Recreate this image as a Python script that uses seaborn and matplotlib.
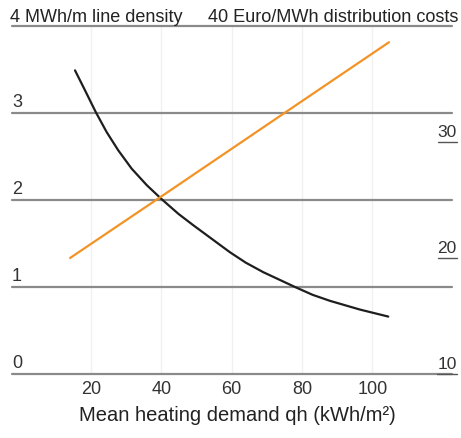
import matplotlib
matplotlib.use("Agg")
import matplotlib.pyplot as plt
from matplotlib.lines import Line2D
import seaborn as sns
import pandas as pd

# ---- data ----
heating_demand_density = [15.5, 18.35, 21.4, 24.5, 27.8, 31.6, 35.9, 40.1, 44.9,
                          49.1, 59.5, 64.0, 69.0, 78.0, 83.0, 88.0, 96.5, 104.5]
line_density = [3.49, 3.26, 3.01, 2.78, 2.57, 2.36, 2.17, 2.01, 1.84,
                1.71, 1.40, 1.28, 1.17, 1.00, 0.91, 0.84, 0.74, 0.66]

heating_demand_cost = [14.1, 40, 75, 104.7]
distribution_cost = [20.0, 25.3, 32.5, 38.6]

x_ticks = [20, 40, 60, 80, 100]
left_ticks = [0, 1, 2, 3]
right_ticks = [10, 20, 30]

top_left_text = "4 MWh/m line density"
top_right_text = "40 Euro/MWh distribution costs"
x_label = "Mean heating demand qh (kWh/m²)"

# ---- style ----
sns.set_theme(style="white")
plt.rcParams["font.family"] = ["Liberation Sans", "DejaVu Sans"]

W, H = 461, 439
fig = plt.figure(figsize=(W / 100, H / 100), dpi=100)
ax = fig.add_axes([12 / W, 1 - 375 / H, (452 - 12) / W, (375 - 27) / H])

df_d = pd.DataFrame({"x": heating_demand_density, "y": line_density})
df_c = pd.DataFrame({"x": heating_demand_cost, "y": distribution_cost})

ax.set_xlim(-2.4, 122.6)
ax.set_ylim(0, 4)

# grid
for xv in x_ticks:
    ax.axvline(xv, color="#f0f0f0", lw=1.0, zorder=0)
for yv in left_ticks + [4]:
    ax.axhline(yv, color="#8a8a8a", lw=1.6, zorder=1, clip_on=False)

sns.lineplot(data=df_d, x="x", y="y", ax=ax, color="#1e1e1e", lw=1.6, zorder=3)

ax2 = ax.twinx()
ax2.set_ylim(10, 40)
sns.lineplot(data=df_c, x="x", y="y", ax=ax2, color="#F39325", lw=1.6, zorder=3)

for a in (ax, ax2):
    for s in a.spines.values():
        s.set_visible(False)
    a.set_ylabel("")
    a.set_yticks([])
ax2.set_xlabel("")

ax.set_xticks(x_ticks)
ax.set_xticklabels([str(v) for v in x_ticks], fontsize=13, color="#333333")
ax.tick_params(axis="x", length=0, pad=4)
ax.set_xlabel(x_label, fontsize=14.5, color="#222222", labelpad=6, x=0.5125)

for v in left_ticks:
    ax.annotate(str(v), xy=(0, v), xycoords=("axes fraction", "data"),
                xytext=(0, 2), textcoords="offset points",
                ha="left", va="bottom", fontsize=13, color="#333333")

right_texts = []
for v in right_ticks:
    t = ax2.annotate(str(v), xy=(1, v), xycoords=("axes fraction", "data"),
                     xytext=(3.5, 2.5), textcoords="offset points",
                     ha="right", va="bottom", fontsize=12.5, color="#333333")
    right_texts.append((v, t))

fig.text(10 / W, 1 - 22.5 / H, top_left_text, ha="left", va="baseline",
         fontsize=13, color="#222222")
fig.text(208 / W, 1 - 22.5 / H, top_right_text, ha="left", va="baseline",
         fontsize=13.1, color="#222222")

# underline the right-axis labels
fig.canvas.draw()
renderer = fig.canvas.get_renderer()
for v, t in right_texts:
    bb = t.get_window_extent(renderer)
    ydisp = ax2.transData.transform((0, v))[1]
    fig.add_artist(Line2D([bb.x0, bb.x1], [ydisp, ydisp], transform=None,
                          color="#555555", lw=1.0))

fig.savefig("out.png", dpi=100)
